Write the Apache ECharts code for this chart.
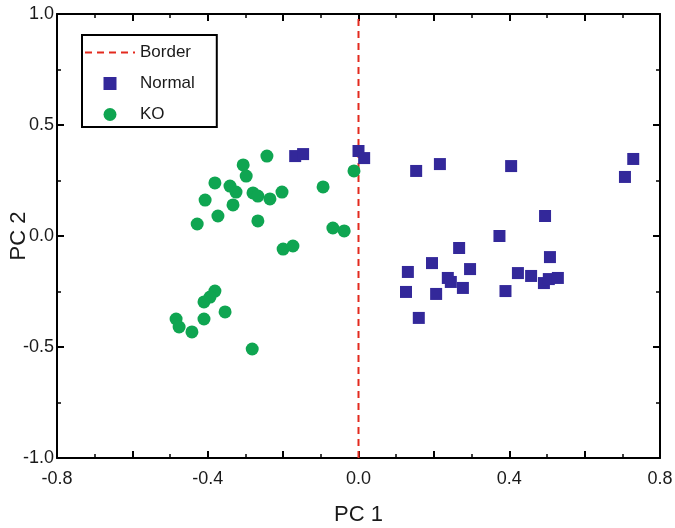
<!DOCTYPE html>
<html>
<head>
<meta charset="utf-8">
<script src="https://cdn.jsdelivr.net/npm/echarts@6/dist/echarts.min.js"></script>
<style>html,body{margin:0;padding:0;background:#fff}#c{width:675px;height:528px}</style>
</head>
<body>
<div id="c"></div>
<script>
var borderLine = [[0, -1], [0, 1]];
var normalPoints = [
  [0.00, 0.383], [0.015, 0.351], [-0.168, 0.360], [-0.147, 0.369], [0.153, 0.293],
  [0.216, 0.324], [0.405, 0.315], [0.729, 0.347], [0.707, 0.266], [0.495, 0.090],
  [0.374, 0.000], [0.267, -0.054], [0.195, -0.122], [0.131, -0.162], [0.237, -0.189],
  [0.245, -0.207], [0.296, -0.149], [0.277, -0.234], [0.126, -0.252], [0.206, -0.261],
  [0.160, -0.369], [0.508, -0.095], [0.423, -0.167], [0.458, -0.180], [0.492, -0.212],
  [0.505, -0.194], [0.529, -0.189], [0.390, -0.248]
];
var koPoints = [
  [-0.243, 0.360], [-0.306, 0.320], [-0.298, 0.270], [-0.381, 0.239], [-0.341, 0.225],
  [-0.325, 0.198], [-0.280, 0.194], [-0.267, 0.180], [-0.235, 0.167], [-0.203, 0.198],
  [-0.094, 0.221], [-0.012, 0.293], [-0.407, 0.162], [-0.333, 0.140], [-0.373, 0.090],
  [-0.428, 0.054], [-0.267, 0.068], [-0.068, 0.036], [-0.038, 0.023], [-0.200, -0.059],
  [-0.174, -0.045], [-0.381, -0.248], [-0.394, -0.275], [-0.410, -0.297], [-0.484, -0.374],
  [-0.476, -0.410], [-0.442, -0.432], [-0.410, -0.374], [-0.354, -0.342], [-0.282, -0.509]
];
var seriesNames = ['Border', 'Normal', 'KO'];
var xLabels = ['-0.8', '-0.4', '0.0', '0.4', '0.8'];
var yLabels = ['-1.0', '-0.5', '0.0', '0.5', '1.0'];

var font = 'Liberation Sans, Arial, sans-serif';
function xFmt(v) {
  var s = (Math.abs(v) < 1e-9 ? 0 : v).toFixed(1);
  return xLabels.indexOf(s) >= 0 ? s : '';
}
function yFmt(v) {
  var s = (Math.abs(v) < 1e-9 ? 0 : v).toFixed(1);
  return yLabels.indexOf(s) >= 0 ? s : '';
}
function axisBase(show) {
  return {
    axisLine: {show: true, onZero: false, lineStyle: {color: '#000', width: 2}},
    axisTick: {show: true, inside: true, length: 7, lineStyle: {color: '#000', width: 2}},
    minorTick: {show: true, splitNumber: 2, length: 4, lineStyle: {color: '#000', width: 1.5}},
    splitLine: {show: false},
    axisLabel: {show: show, color: '#1a1a1a', fontFamily: font, fontSize: 18, margin: 12}
  };
}
var xa = axisBase(true);
Object.assign(xa, {type: 'value', min: -0.8, max: 0.8, interval: 0.2, position: 'bottom',
  name: 'PC 1', nameLocation: 'middle', nameGap: 46, nameMoveOverlap: false,
  nameTextStyle: {fontFamily: font, fontSize: 22, color: '#1a1a1a'}});
xa.axisLabel.formatter = xFmt;
var xa2 = axisBase(false);
Object.assign(xa2, {type: 'value', min: -0.8, max: 0.8, interval: 0.2, position: 'top'});
var ya = axisBase(true);
Object.assign(ya, {type: 'value', min: -1, max: 1, interval: 0.5, position: 'left',
  name: 'PC 2', nameLocation: 'middle', nameGap: 27, nameRotate: 90, nameMoveOverlap: false,
  nameTextStyle: {fontFamily: font, fontSize: 22, color: '#1a1a1a'}});
ya.axisLabel.formatter = yFmt;
ya.axisLabel.margin = 3;
var ya2 = axisBase(false);
Object.assign(ya2, {type: 'value', min: -1, max: 1, interval: 0.5, position: 'right'});

var chart = echarts.init(document.getElementById('c'), null, {renderer: 'canvas'});
chart.setOption({
  animation: false,
  backgroundColor: '#fff',
  grid: {left: 57, right: 15, top: 14, bottom: 70, containLabel: false, outerBoundsMode: 'none'},
  legend: {
    orient: 'vertical', left: 82, top: 35,
    data: [
      {name: seriesNames[0], itemStyle: {color: 'rgba(0,0,0,0)', borderWidth: 0, opacity: 0}},
      {name: seriesNames[1], icon: 'path://M0,0L10,0L10,10L0,10Z'},
      {name: seriesNames[2], icon: 'circle'}
    ],
    symbolKeepAspect: true,
    itemWidth: 50, itemHeight: 13, itemGap: 14,
    padding: [9, 22, 4, 2],
    borderColor: '#000', borderWidth: 2,
    textStyle: {fontFamily: font, fontSize: 17, color: '#1a1a1a'}
  },
  xAxis: [xa, xa2],
  yAxis: [ya, ya2],
  series: [
    {name: seriesNames[0], type: 'line', data: borderLine, symbol: 'none', z: 1,
     lineStyle: {color: '#E32A1E', width: 2, type: [7, 5]}, itemStyle: {color: '#E32A1E'}},
    {name: seriesNames[1], type: 'scatter', data: normalPoints, symbol: 'rect', symbolSize: 12, z: 3,
     itemStyle: {color: '#33289A', opacity: 1}},
    {name: seriesNames[2], type: 'scatter', data: koPoints, symbol: 'circle', symbolSize: 13, z: 2,
     itemStyle: {color: '#0FA551', opacity: 1}}
  ]
});
</script>
</body>
</html>
